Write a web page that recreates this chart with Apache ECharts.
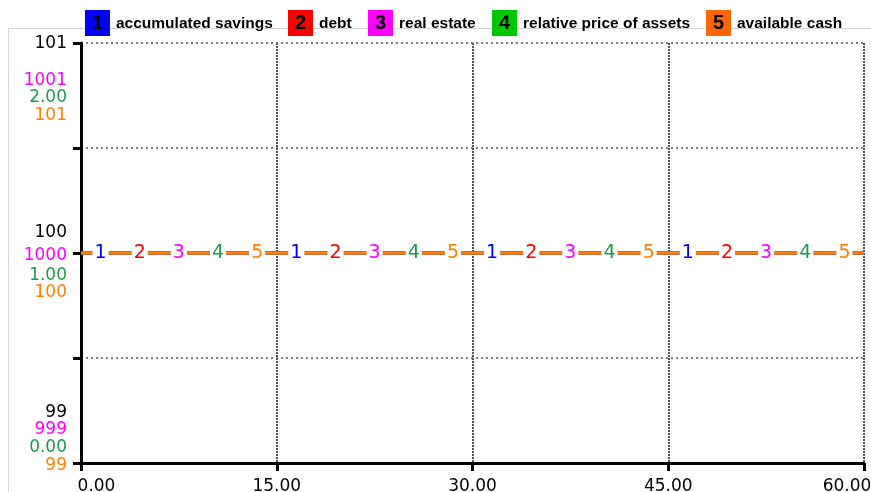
<!DOCTYPE html>
<html>
<head>
<meta charset="utf-8">
<script src="https://cdn.jsdelivr.net/npm/echarts@6/dist/echarts.min.js"></script>
<style>
html,body{margin:0;padding:0;background:#fff;}
#chart{width:871px;height:492px;}
</style>
</head>
<body>
<div id="chart"></div>
<script>
// ---- data ----
const times = [0, 1.5, 4.5, 7.5, 10.5, 13.5, 16.5, 19.5, 22.5, 25.5, 28.5, 31.5, 34.5, 37.5, 40.5, 43.5, 46.5, 49.5, 52.5, 55.5, 58.5, 60];
const accumulatedSavings = [100,100,100,100,100,100,100,100,100,100,100,100,100,100,100,100,100,100,100,100,100,100];
const debt = [100,100,100,100,100,100,100,100,100,100,100,100,100,100,100,100,100,100,100,100,100,100];
const realEstate = [1000,1000,1000,1000,1000,1000,1000,1000,1000,1000,1000,1000,1000,1000,1000,1000,1000,1000,1000,1000,1000,1000];
const relativePriceOfAssets = [1,1,1,1,1,1,1,1,1,1,1,1,1,1,1,1,1,1,1,1,1,1];
const availableCash = [100,100,100,100,100,100,100,100,100,100,100,100,100,100,100,100,100,100,100,100,100,100];

const seriesNames = ['accumulated savings', 'debt', 'real estate', 'relative price of assets', 'available cash'];
const markerTimes = [
  [1.5, 16.5, 31.5, 46.5],
  [4.5, 19.5, 34.5, 49.5],
  [7.5, 22.5, 37.5, 52.5],
  [10.5, 25.5, 40.5, 55.5],
  [13.5, 28.5, 43.5, 58.5]
];
const xTicks = [0, 15, 30, 45, 60];
const blackTicks = [99, 100, 101];
const magentaTicks = [999, 1000, 1001];
const greenTicks = ['0.00', '1.00', '2.00'];
const orangeTicks = [99, 100, 101];

// ---- styles ----
const lineColors = ['#0000ff', '#ff0000', '#ff00ff', '#1e9b50', '#ff8000'];
const boxColors = ['#0000ff', '#ff0000', '#ff00ff', '#00c800', '#ff6600'];
const boxLefts = [84, 287, 367, 491, 705];
const labelFont = 'DejaVu Sans';
const labelSize = 17;
const blackOffsets = [-50, -20, 1];
const magentaOffsets = [-33, 3, 38];
const greenOffsets = [-15, 23, 55];
const orangeOffsets = [3, 40, 73];

function shift(text, d) {
  // d: vertical pixel offset of the label relative to its tick (lineHeight = 2)
  d = Math.round(d);
  if (d > 0) return '\n'.repeat(d) + text;
  if (d < 0) return text + '\n'.repeat(-d);
  return text;
}
function near(a, b) { return Math.abs(a - b) < 1e-6; }

const series = [accumulatedSavings, debt, realEstate, relativePriceOfAssets, availableCash].map((vals, i) => ({
  name: seriesNames[i],
  type: 'line',
  yAxisIndex: [0, 0, 1, 2, 3][i],
  symbol: 'circle',
  symbolSize: 0.01,
  showSymbol: true,
  animation: false,
  z: 2,
  lineStyle: { color: lineColors[i], width: 3 },
  itemStyle: { color: lineColors[i] },
  data: times.map((t, k) => {
    const item = { value: [t, vals[k]] };
    if (markerTimes[i].some(m => near(m, t))) {
      item.label = {
        show: true, position: 'inside', formatter: String(i + 1),
        color: lineColors[i], fontFamily: labelFont, fontSize: 19,
        backgroundColor: '#fff', padding: [0, 2]
      };
    } else {
      item.label = { show: false };
    }
    return item;
  })
}));

function colorAxis(min, max, interval, color, ticks, offsets, extra) {
  return Object.assign({
    type: 'value', position: 'left', min: min, max: max, interval: interval,
    axisLine: { show: false }, axisTick: { show: false }, splitLine: { show: false },
    axisLabel: {
      color: color, fontFamily: labelFont, fontSize: labelSize, lineHeight: 2, margin: 14,
      formatter: function (v) {
        for (let j = 0; j < ticks.length; j++) {
          if (near(Number(ticks[j]), v)) return shift(String(ticks[j]), offsets[j]);
        }
        return '';
      }
    }
  }, extra || {});
}

const option = {
  backgroundColor: '#fff',
  animation: false,
  grid: { left: 81, right: 7, top: 43, bottom: 29, containLabel: false, outerBoundsMode: 'none' },
  legend: seriesNames.map((name, i) => ({
    data: [name], left: boxLefts[i] - 5, top: 10, itemWidth: 0, itemHeight: 0,
    selectedMode: false, padding: 0,
    formatter: n => '{b|' + (i + 1) + '}{t|' + n + '}',
    textStyle: {
      rich: {
        b: { backgroundColor: boxColors[i], width: 25, height: 26, lineHeight: 26, align: 'center',
             fontSize: 20, fontWeight: 'bold', color: '#000', fontFamily: 'Liberation Sans' },
        t: { fontSize: 15.5, fontWeight: 'bold', color: '#000', fontFamily: 'Liberation Sans',
             padding: [2, 0, 0, 6] }
      }
    }
  })),
  xAxis: {
    type: 'value', min: 0, max: 60, interval: 15,
    axisLine: { onZero: false, lineStyle: { color: '#000', width: 3 } },
    axisTick: { show: true, length: 8, lineStyle: { color: '#000', width: 3 } },
    splitLine: { show: true, lineStyle: { color: '#555', width: 2, type: [2, 1] } },
    axisLabel: {
      color: '#000', fontFamily: labelFont, fontSize: labelSize, margin: 15,
      formatter: function (v) {
        const s = v.toFixed(2);
        if (near(v, xTicks[0])) return '{first|' + s + '}';
        if (near(v, xTicks[xTicks.length - 1])) return '{last|' + s + '}';
        return s;
      },
      rich: {
        first: { fontFamily: labelFont, fontSize: labelSize, color: '#000', padding: [0, 0, 0, 31] },
        last: { fontFamily: labelFont, fontSize: labelSize, color: '#000', padding: [0, 34, 0, 0] }
      }
    }
  },
  yAxis: [
    colorAxis(99, 101, 0.5, '#000', blackTicks, blackOffsets, {
      axisLine: { show: true, lineStyle: { color: '#000', width: 3 } },
      axisTick: { show: true, length: 8, lineStyle: { color: '#000', width: 3 } },
      splitLine: { show: true, lineStyle: { color: '#555', width: 1.5, type: [2, 3] } }
    }),
    colorAxis(999, 1001, 1, '#ff00ff', magentaTicks, magentaOffsets),
    colorAxis(0, 2, 1, '#1e9b50', greenTicks, greenOffsets),
    colorAxis(99, 101, 1, '#ff8000', orangeTicks, orangeOffsets)
  ],
  graphic: [{
    type: 'rect', z: -10, silent: true,
    shape: { x: 8.5, y: 28.5, width: 900, height: 500 },
    style: { fill: 'none', stroke: '#d4d4d4', lineWidth: 1 }
  }],
  series: series
};

const chart = echarts.init(document.getElementById('chart'), null, { renderer: 'canvas' });
chart.setOption(option);
</script>
</body>
</html>
